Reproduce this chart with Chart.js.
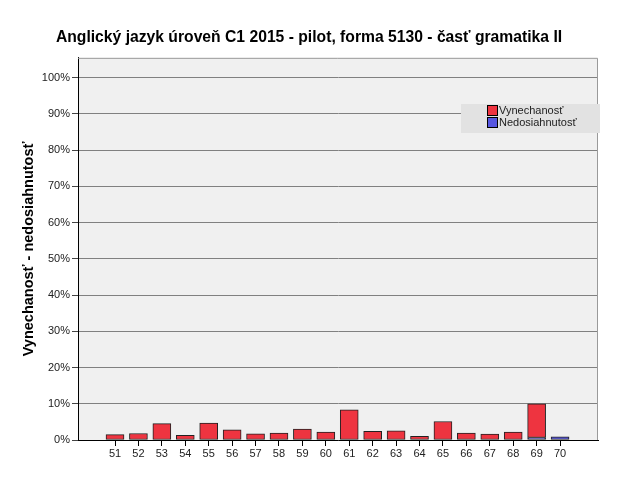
<!DOCTYPE html>
<html lang="sk">
<head>
  <meta charset="UTF-8" />
  <title>Anglický jazyk úroveň C1 2015</title>
  <script src="https://cdn.jsdelivr.net/npm/chart.js"></script>
  <style>
    body { margin: 0; background: #fff; }
    #wrap { width: 626px; height: 501px; }
  </style>
</head>
<body>
  <div id="wrap"><canvas id="chart" width="626" height="501"></canvas></div>
  <script>
    const items = [51, 52, 53, 54, 55, 56, 57, 58, 59, 60, 61, 62, 63, 64, 65, 66, 67, 68, 69, 70];
    const vynechanost = [1.5, 1.8, 4.5, 1.3, 4.7, 2.8, 1.7, 1.9, 3.0, 2.2, 8.3, 2.4, 2.5, 1.0, 5.1, 1.9, 1.6, 2.2, 9.3, 0];
    const nedosiahnutost = [0, 0, 0, 0, 0, 0, 0, 0, 0, 0, 0, 0, 0, 0, 0, 0, 0, 0, 0.7, 0.9];
    const yTicks = [0, 10, 20, 30, 40, 50, 60, 70, 80, 90, 100];

    const redColor = '#ee3440';
    const blueColor = '#5656e0';

    const toPoints = arr => arr.map((v, i) => ({ x: items[i], y: v }));

    // plot background + grey top/right frame + legend box
    const frame = {
      id: 'frame',
      beforeDraw(chart) {
        const a = chart.chartArea, c = chart.ctx;
        c.save();
        c.fillStyle = '#f0f0f0';
        c.fillRect(a.left, a.top, a.right - a.left, a.bottom - a.top);
        c.restore();
      },
      afterDraw(chart) {
        const a = chart.chartArea, c = chart.ctx;
        c.save();
        c.strokeStyle = '#9a9a9a';
        c.lineWidth = 1;
        c.beginPath();
        c.moveTo(a.left, a.top + 0.5);
        c.lineTo(a.right - 0.5, a.top + 0.5);
        c.lineTo(a.right - 0.5, a.bottom);
        c.stroke();

        c.fillStyle = '#e2e2e2';
        c.fillRect(461, 104, 139, 29);
        const entries = [['Vynechanosť', redColor], ['Nedosiahnutosť', blueColor]];
        c.font = '11px "Liberation Sans", Arial, sans-serif';
        c.textBaseline = 'middle';
        entries.forEach((e, i) => {
          const y = 105 + i * 12;
          c.fillStyle = e[1];
          c.fillRect(487.5, y + 0.5, 10, 10);
          c.strokeStyle = '#000';
          c.strokeRect(487.5, y + 0.5, 10, 10);
          c.fillStyle = '#222';
          c.fillText(e[0], 499, y + 6);
        });
        c.restore();
      }
    };

    new Chart(document.getElementById('chart'), {
      type: 'bar',
      data: {
        datasets: [
          {
            label: 'Nedosiahnutosť',
            data: toPoints(nedosiahnutost),
            backgroundColor: blueColor,
            borderColor: '#222',
            borderWidth: 1,
            borderSkipped: false,
            barThickness: 18
          },
          {
            label: 'Vynechanosť',
            data: toPoints(vynechanost),
            backgroundColor: redColor,
            borderColor: '#222',
            borderWidth: 1,
            borderSkipped: false,
            barThickness: 18
          }
        ]
      },
      options: {
        responsive: false,
        animation: false,
        layout: { padding: { left: 20, right: 28, top: 0, bottom: 0 } },
        plugins: {
          legend: { display: false },
          tooltip: { enabled: false },
          title: {
            display: true,
            text: 'Anglický jazyk úroveň C1 2015 - pilot, forma 5130 - časť gramatika II',
            color: '#000',
            font: { family: '"Liberation Sans", Arial, sans-serif', size: 15.7, weight: 'bold' },
            padding: { top: 28, bottom: 11 }
          }
        },
        scales: {
          x: {
            type: 'linear',
            stacked: true,
            offset: false,
            min: 49.42,
            max: 71.62,
            afterBuildTicks: s => { s.ticks = items.map(v => ({ value: v })); },
            afterFit: s => { s.height = 61; },
            grid: { display: true, offset: false, drawOnChartArea: false, drawTicks: true, tickLength: 6, tickColor: '#000', tickWidth: 1 },
            border: { color: '#000' },
            ticks: {
              color: '#222',
              padding: 1,
              maxRotation: 0,
              autoSkip: false,
              font: { family: '"Liberation Sans", Arial, sans-serif', size: 11 },
              callback: v => String(v)
            }
          },
          y: {
            stacked: true,
            min: 0,
            max: 105.5,
            afterBuildTicks: s => { s.ticks = yTicks.map(v => ({ value: v })); },
            afterFit: s => { s.width = 58; },
            grid: { color: '#808080', tickLength: 6, tickColor: '#444' },
            border: { color: '#000' },
            ticks: {
              color: '#222',
              padding: 2,
              font: { family: '"Liberation Sans", Arial, sans-serif', size: 11 },
              callback: v => v + '%'
            },
            title: {
              display: true,
              text: 'Vynechanosť - nedosiahnutosť',
              color: '#000',
              padding: 0,
              font: { family: '"Liberation Sans", Arial, sans-serif', size: 14.5, weight: 'bold' }
            }
          }
        }
      },
      plugins: [frame]
    });
  </script>
</body>
</html>
